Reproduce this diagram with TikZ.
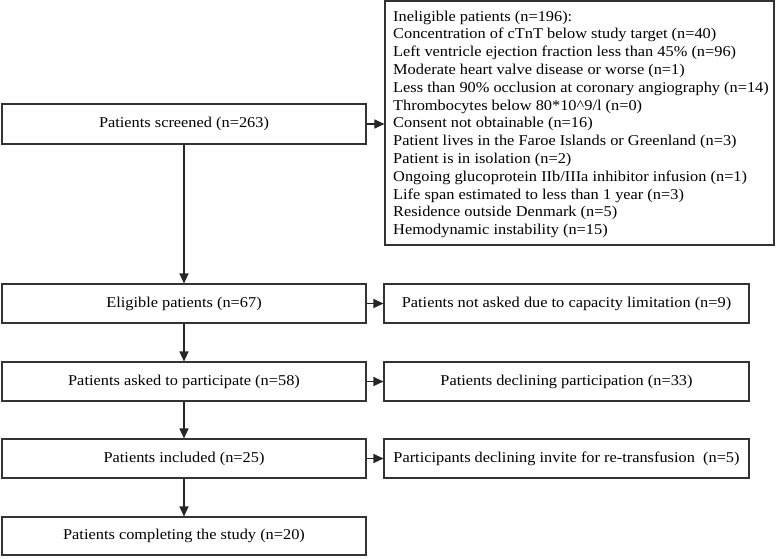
\documentclass[tikz,border=0pt]{standalone}
\usepackage{fontspec}
\setmainfont{Liberation Serif}[FakeStretch=1.09]
\usetikzlibrary{arrows.meta}
\begin{document}
\begin{tikzpicture}[x=1pt,y=-1pt,
  box/.style={draw=black!80, line width=1.1pt, minimum height=39pt, inner sep=0pt, font=\fontsize{15}{17.5}\selectfont},
  lbox/.style={box, minimum width=364pt},
  rbox/.style={box, minimum width=365pt},
  arr/.style={draw=black!85, line width=1.1pt, -{Triangle[length=10pt,width=9pt]}}]
\useasboundingbox (0,0) rectangle (777,558);
\node[lbox, minimum height=40pt] (s) at (184,124) {Patients screened (n=263)};
\node[lbox] (e) at (184,303.5) {Eligible patients (n=67)};
\node[lbox] (a) at (184,381.5) {Patients asked to participate (n=58)};
\node[lbox] (i) at (184,458.5) {Patients included (n=25)};
\node[lbox, minimum height=38pt] (c) at (184,536) {Patients completing the study (n=20)};
\node[draw=black!80, line width=1.1pt, minimum width=389pt, minimum height=244pt, inner sep=0pt] (x) at (579.5,123) {};
\node[anchor=north west, align=left, inner sep=0pt, font=\fontsize{15}{17.8}\selectfont] (xt) at (393,10.5) {Ineligible patients (n=196):\\
Concentration of cTnT below study target (n=40)\\
Left ventricle ejection fraction less than 45\% (n=96)\\
Moderate heart valve disease or worse (n=1)\\
Less than 90\% occlusion at coronary angiography (n=14)\\
Thrombocytes below 80*10\^{}9/l (n=0)\\
Consent not obtainable (n=16)\\
Patient lives in the Faroe Islands or Greenland (n=3)\\
Patient is in isolation (n=2)\\
Ongoing glucoprotein IIb/IIIa inhibitor infusion (n=1)\\
Life span estimated to less than 1 year (n=3)\\
Residence outside Denmark (n=5)\\
Hemodynamic instability (n=15)};
\node[rbox] (r1) at (566.5,303.5) {Patients not asked due to capacity limitation (n=9)};
\node[rbox] (r2) at (566.5,381.5) {Patients declining participation (n=33)};
\node[rbox] (r3) at (566.5,458.5) {Participants declining invite for re-transfusion~~(n=5)};
\draw[arr] (s) -- (e);
\draw[arr] (e) -- (a);
\draw[arr] (a) -- (i);
\draw[arr] (i) -- (c);
\draw[arr] (s.east) -- (s.east -| x.west);
\draw[arr] (e) -- (r1);
\draw[arr] (a) -- (r2);
\draw[arr] (i) -- (r3);
\end{tikzpicture}
\end{document}
